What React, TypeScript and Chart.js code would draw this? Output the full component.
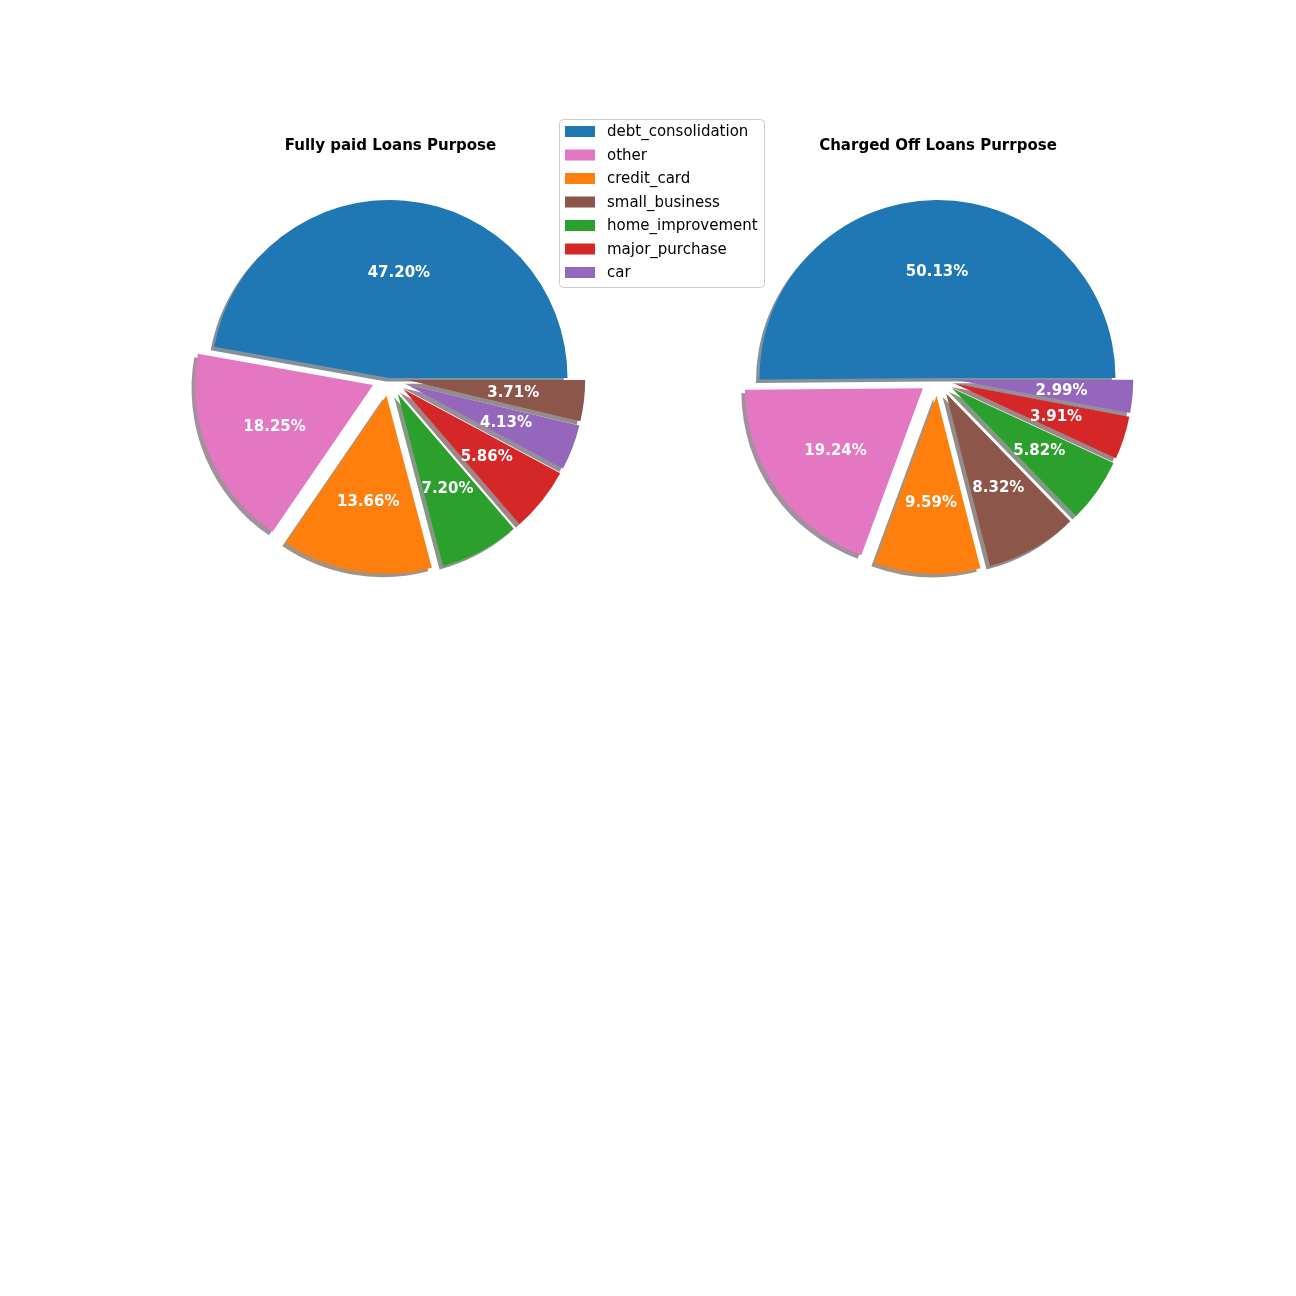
import React, { useEffect, useRef } from 'react';
import { Chart, registerables } from 'chart.js';

Chart.register(...registerables);

// ---- Data ----
const fullyPaidTitle = 'Fully paid Loans Purpose';
const fullyPaidPurposes = ['debt_consolidation', 'other', 'credit_card', 'home_improvement', 'major_purchase', 'car', 'small_business'];
const fullyPaidPct = [47.2, 18.25, 13.66, 7.2, 5.86, 4.13, 3.71];

const chargedOffTitle = 'Charged Off Loans Purrpose';
const chargedOffPurposes = ['debt_consolidation', 'other', 'credit_card', 'small_business', 'home_improvement', 'major_purchase', 'car'];
const chargedOffPct = [50.13, 19.24, 9.59, 8.32, 5.82, 3.91, 2.99];

const legendPurposes = ['debt_consolidation', 'other', 'credit_card', 'small_business', 'home_improvement', 'major_purchase', 'car'];

const explodeFractions = [0, 0.1, 0.1, 0.1, 0.1, 0.1, 0.1];

const purposeColors: Record<string, string> = {
  debt_consolidation: '#1f77b4',
  other: '#e377c2',
  credit_card: '#ff7f0e',
  small_business: '#8c564b',
  home_improvement: '#2ca02c',
  major_purchase: '#d62728',
  car: '#9467bd',
};

const FONT = '"DejaVu Sans", "Liberation Sans", sans-serif';

function shadowColor(hex: string): string {
  const n = parseInt(hex.slice(1), 16);
  const r = Math.round(((n >> 16) & 255) * 0.3);
  const g = Math.round(((n >> 8) & 255) * 0.3);
  const b = Math.round((n & 255) * 0.3);
  return `rgba(${r},${g},${b},0.5)`;
}

function makePiePlugin(explode: number[], colors: string[], title: string, titleX: number, drawLegend: boolean) {
  let saved: Array<[number, number]> = [];
  return {
    id: 'explodeShadowLabels',
    beforeDatasetsDraw(chart: any) {
      const ctx = chart.ctx as CanvasRenderingContext2D;
      const meta = chart.getDatasetMeta(0);
      saved = [];
      ctx.save();
      meta.data.forEach((arc: any, i: number) => {
        const mid = (arc.startAngle + arc.endAngle) / 2;
        const ex = explode[i] * arc.outerRadius;
        const dx = Math.cos(mid) * ex;
        const dy = Math.sin(mid) * ex;
        saved.push([arc.x, arc.y]);
        const so = 0.02 * arc.outerRadius;
        const sx = arc.x + dx - so;
        const sy = arc.y + dy + so;
        ctx.fillStyle = shadowColor(colors[i]);
        ctx.beginPath();
        ctx.moveTo(sx, sy);
        ctx.arc(sx, sy, arc.outerRadius, arc.startAngle, arc.endAngle);
        ctx.closePath();
        ctx.fill();
        arc.x += dx;
        arc.y += dy;
      });
      ctx.restore();
    },
    afterDatasetsDraw(chart: any) {
      const ctx = chart.ctx as CanvasRenderingContext2D;
      const meta = chart.getDatasetMeta(0);
      const values = chart.data.datasets[0].data as number[];
      ctx.save();
      ctx.fillStyle = '#ffffff';
      ctx.font = `bold 15px ${FONT}`;
      ctx.textAlign = 'center';
      ctx.textBaseline = 'middle';
      meta.data.forEach((arc: any, i: number) => {
        const mid = (arc.startAngle + arc.endAngle) / 2;
        const r = arc.outerRadius * 0.6;
        ctx.fillText(`${values[i].toFixed(2)}%`, arc.x + Math.cos(mid) * r, arc.y + Math.sin(mid) * r + 1);
      });
      meta.data.forEach((arc: any, i: number) => {
        if (saved[i]) {
          arc.x = saved[i][0];
          arc.y = saved[i][1];
        }
      });
      ctx.fillStyle = '#000000';
      ctx.font = `bold 15px ${FONT}`;
      ctx.textBaseline = 'middle';
      ctx.fillText(title, titleX, 146);
      ctx.restore();

      if (drawLegend) {
        const lx = 559.5;
        const ly = 119.5;
        const lw = 205;
        const lh = 168;
        ctx.save();
        ctx.beginPath();
        if ((ctx as any).roundRect) {
          (ctx as any).roundRect(lx, ly, lw, lh, 4);
        } else {
          ctx.rect(lx, ly, lw, lh);
        }
        ctx.fillStyle = 'rgba(255,255,255,0.8)';
        ctx.fill();
        ctx.strokeStyle = '#cccccc';
        ctx.lineWidth = 1;
        ctx.stroke();
        ctx.font = `15px ${FONT}`;
        ctx.textAlign = 'left';
        ctx.textBaseline = 'middle';
        legendPurposes.forEach((p, i) => {
          const yc = 131.5 + i * 23.5;
          ctx.fillStyle = purposeColors[p];
          ctx.fillRect(565, yc - 5.5, 30, 11);
          ctx.fillStyle = '#000000';
          ctx.fillText(p, 607, yc + 1);
        });
        ctx.restore();
      }
    },
  };
}

interface PieProps {
  purposes: string[];
  values: number[];
  title: string;
  titleX: number;
  padding: { left: number; right: number; top: number; bottom: number };
  legend: boolean;
}

function PieCanvas({ purposes, values, title, titleX, padding, legend }: PieProps) {
  const ref = useRef<HTMLCanvasElement | null>(null);
  useEffect(() => {
    if (!ref.current) return;
    // Chart.js draws clockwise from the start; matplotlib goes counter-clockwise from east.
    const labels = [...purposes].reverse();
    const data = [...values].reverse();
    const colors = labels.map((p) => purposeColors[p]);
    const explode = [...explodeFractions].reverse();
    const chart = new Chart(ref.current, {
      type: 'pie',
      data: {
        labels,
        datasets: [
          {
            data,
            backgroundColor: colors,
            borderWidth: 0,
          },
        ],
      },
      options: {
        responsive: false,
        animation: false,
        events: [],
        rotation: 90,
        layout: { padding },
        plugins: {
          legend: { display: false },
          tooltip: { enabled: false },
          title: { display: false },
        },
      },
      plugins: [makePiePlugin(explode, colors, title, titleX, legend)],
    });
    return () => chart.destroy();
  }, []);
  return (
    <canvas
      ref={ref}
      width={1296}
      height={1296}
      style={{ position: 'absolute', left: 0, top: 0, width: 1296, height: 1296 }}
    />
  );
}

export default function App() {
  return (
    <div style={{ position: 'absolute', left: 0, top: 0, width: 1296, height: 1296, background: '#ffffff' }}>
      <PieCanvas
        purposes={fullyPaidPurposes}
        values={fullyPaidPct}
        title={fullyPaidTitle}
        titleX={390.5}
        padding={{ left: 211.5, right: 728.5, top: 200, bottom: 740 }}
        legend={false}
      />
      <PieCanvas
        purposes={chargedOffPurposes}
        values={chargedOffPct}
        title={chargedOffTitle}
        titleX={938}
        padding={{ left: 759.5, right: 180.5, top: 200, bottom: 740 }}
        legend={true}
      />
    </div>
  );
}
